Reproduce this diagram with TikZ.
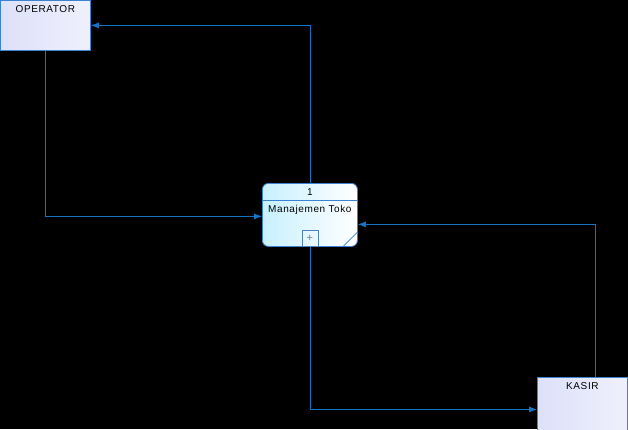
\documentclass[tikz,border=0pt]{standalone}
\usepackage{fontspec}
\setmainfont{Liberation Sans}[LetterSpace=6]
\definecolor{flowblue}{RGB}{20,115,195}
\definecolor{edgeblue}{RGB}{60,130,210}
\definecolor{entlight}{RGB}{220,225,250}
\definecolor{entpale}{RGB}{240,240,252}
\definecolor{proccyan}{RGB}{200,240,255}
\usetikzlibrary{arrows.meta,positioning}

\begin{document}
\begin{tikzpicture}[x=1pt, y=-1pt, line width=0.8pt, >={Latex[length=8pt,width=6pt]}]
        \fill[black] (0,0) rectangle (628,429);
        \useasboundingbox (0,0) rectangle (628,429);
        \clip (0,0) rectangle (628,429);

        % entities and process
        \node (op) [draw=edgeblue, left color=entlight, right color=entpale, minimum width=90pt, minimum height=50pt, anchor=north west, inner sep=0pt] at (0,0) {};
        \node [font=\fontsize{10}{12}\selectfont, below=2pt of op.north] {OPERATOR};
        \node (ks) [draw=edgeblue, left color=entlight, right color=entpale, minimum width=90pt, minimum height=64pt, anchor=north west, inner sep=0pt] at (537,377) {};
        \node [font=\fontsize{10}{12}\selectfont, below=2pt of ks.north] {KASIR};

        \node (pr) [draw=edgeblue, left color=proccyan, right color=white, rounded corners=6pt, minimum width=95pt, minimum height=63pt, anchor=north west, inner sep=0pt] at (262,183) {};
        \draw[edgeblue] ([yshift=-17pt]pr.north west) -- ([yshift=-17pt]pr.north east);
        \node [font=\fontsize{10}{12}\selectfont, below=1.5pt of pr.north] {1};
        \node [font=\fontsize{10}{12}\selectfont, below=19pt of pr.north] {Manajemen Toko};
        \node (plus) [draw=edgeblue!70!gray, minimum size=16pt, inner sep=0pt, anchor=south, font=\fontsize{11}{11}\selectfont\color{gray}] at (pr.south) {+};
        \draw[edgeblue] ([xshift=-15pt]pr.south east) -- ([yshift=15pt]pr.south east);

        % flows
        \draw[->, flowblue] (op.south) |- ([yshift=-1.5pt]pr.west);
        \draw[->, flowblue] (pr.north) |- (op.east);
        \draw[->, flowblue] (plus.south) |- (ks.west);
        \draw[->, flowblue] (ks.north -| 595,0) |- ([yshift=-9.5pt]pr.east);
      \end{tikzpicture}
\end{document}
